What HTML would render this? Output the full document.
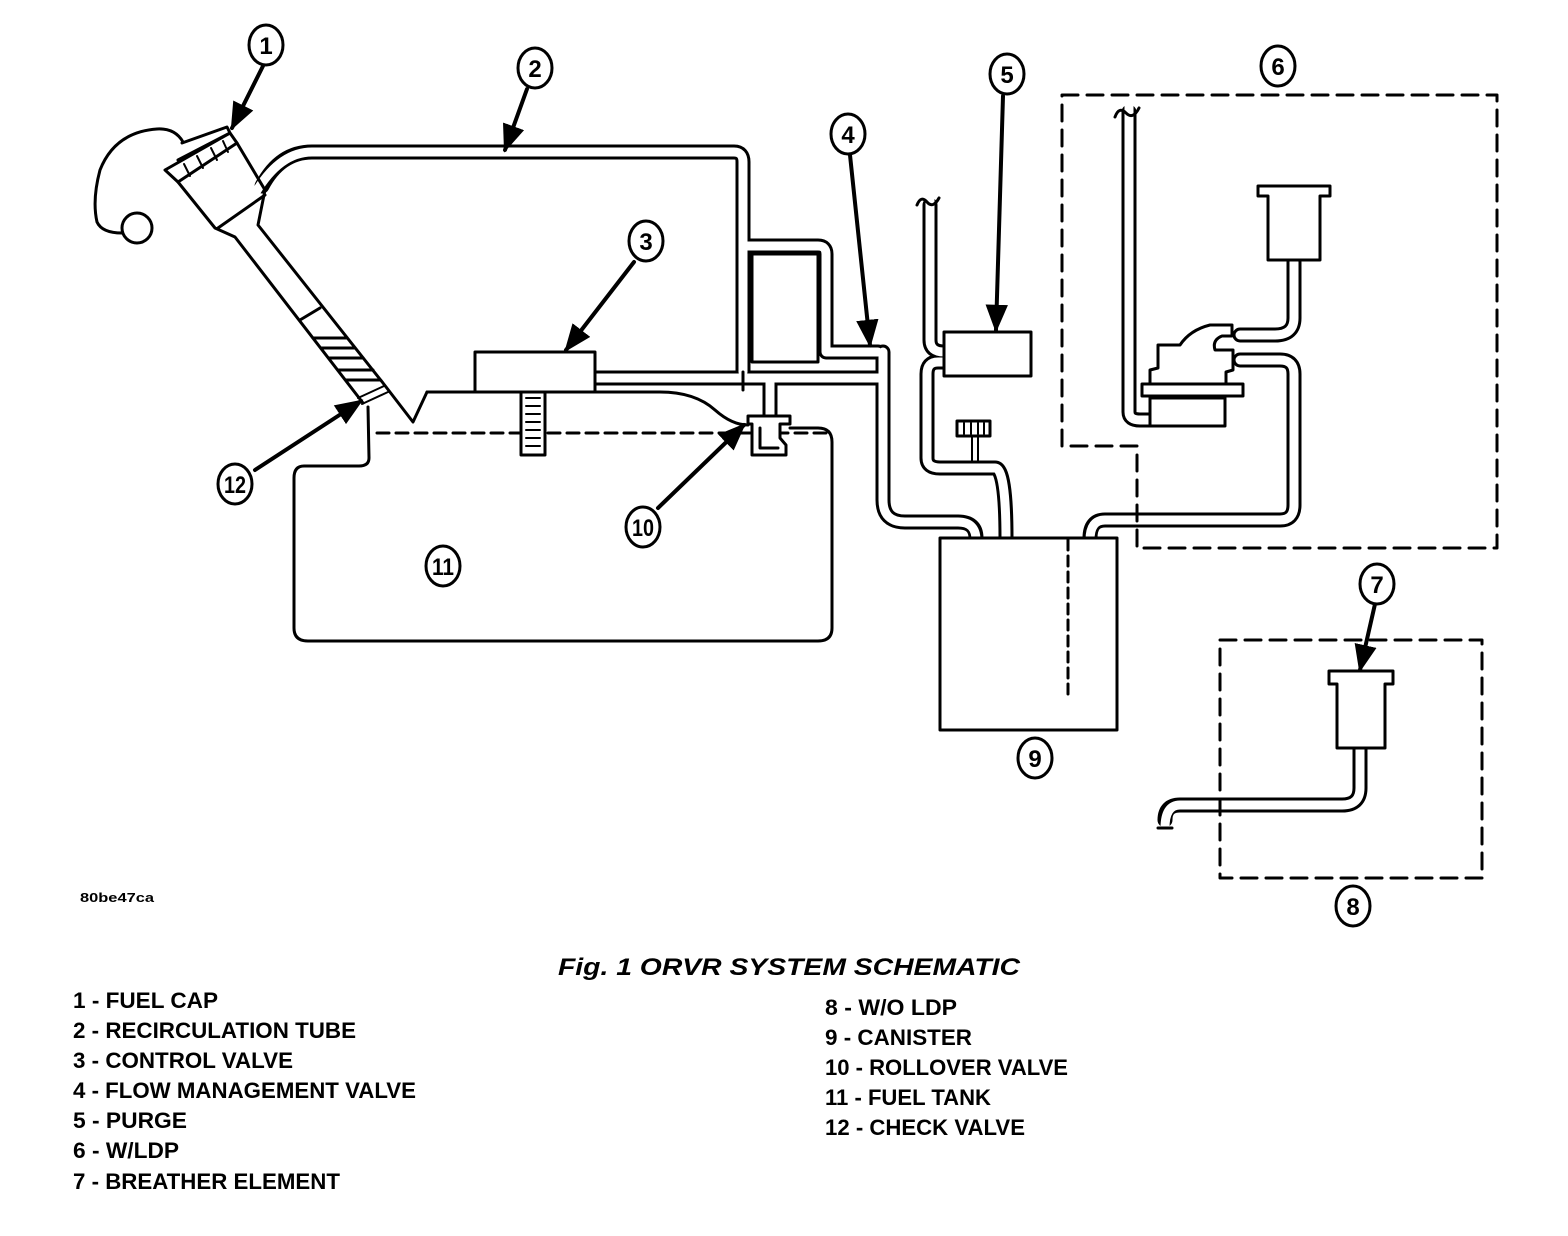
<!DOCTYPE html>
<html><head><meta charset="utf-8"><style>
html,body{margin:0;padding:0;background:#fff}
svg{display:block}
text{font-family:"Liberation Sans",Arial,sans-serif;fill:#000}
</style></head><body>
<svg width="1568" height="1236" viewBox="0 0 1568 1236" xmlns="http://www.w3.org/2000/svg">
<defs>
<marker id="ah" viewBox="0 0 10 10" refX="9" refY="5" markerWidth="7" markerHeight="7" orient="auto" markerUnits="strokeWidth"><path d="M0,1 L10,5 L0,9 Z" fill="#000"/></marker>
</defs>
<g fill="none" stroke="#000" stroke-width="3" stroke-linejoin="round" stroke-linecap="round">
<g stroke-width="15">
<path d="M262 186 Q 280 152 312 152 L 734 152 Q 743 152 743 162 L 743 372"/>
<path d="M743 246 L 818 246 Q 826 246 826 254 L 826 352 L 878 352"/>
<path d="M595 378 L 880 378"/>
<path d="M770 378 L 770 415"/>
<path d="M883 352 L 883 500 Q 883 522 905 522 L 958 522 Q 976 522 976 538"/>
<path d="M930 205 L 930 340 Q 930 352 944 352"/>
<path d="M944 362 L 938 362 Q 927 362 927 374 L 927 458 Q 927 468 940 468 L 995 468 Q 1006 468 1006 538"/>
<path d="M1129 112 L 1129 412 Q 1129 420 1140 420 L 1150 420"/>
<path d="M1294 262 L 1294 318 Q 1294 335 1275 335 L 1240 335"/>
<path d="M1240 360 L 1280 360 Q 1294 360 1294 374 L 1294 505 Q 1294 520 1280 520 L 1105 520 Q 1090 520 1090 538"/>
<path d="M1360 748 L 1360 788 Q 1360 805 1342 805 L 1180 805 Q 1165 805 1165 820"/>
</g>
<g stroke="#fff" stroke-width="9">
<path d="M256 192 Q 280 152 312 152 L 734 152 Q 743 152 743 162 L 743 372"/>
<path d="M743 246 L 818 246 Q 826 246 826 254 L 826 352 L 878 352"/>
<path d="M595 378 L 880 378"/>
<path d="M770 378 L 770 415"/>
<path d="M883 352 L 883 500 Q 883 522 905 522 L 958 522 Q 976 522 976 540"/>
<path d="M930 196 L 930 340 Q 930 352 944 352"/>
<path d="M944 362 L 938 362 Q 927 362 927 374 L 927 458 Q 927 468 940 468 L 995 468 Q 1006 468 1006 540"/>
<path d="M1129 105 L 1129 412 Q 1129 420 1140 420 L 1150 420"/>
<path d="M1294 262 L 1294 318 Q 1294 335 1275 335 L 1240 335"/>
<path d="M1240 360 L 1280 360 Q 1294 360 1294 374 L 1294 505 Q 1294 520 1280 520 L 1105 520 Q 1090 520 1090 540"/>
<path d="M1360 748 L 1360 788 Q 1360 805 1342 805 L 1180 805 Q 1165 805 1165 828"/>
</g>
<path d="M752 254 L 818 254 L 818 362 L 752 362 Z" fill="#fff"/>
<path d="M743 372 L 743 390"/>
<path d="M917 205 Q 921 195 927 202 Q 933 209 939 198"/>
<path d="M1115 117 Q 1119 106 1126 113 Q 1133 120 1139 108"/>
<path d="M1158 828 L 1172 828"/>
<!-- tank -->
<path d="M368 407 L 369 458 Q 369 466 359 466 L 304 466 Q 294 466 294 478 L 294 628 Q 294 641 308 641 L 818 641 Q 832 641 832 628 L 832 442 Q 832 428 818 428 L 790 428"/>
<path d="M427 392 L 660 392 Q 695 392 715 410 Q 732 425 748 425"/>
<path d="M377 433 L 830 433" stroke-dasharray="12 7"/>
<!-- control valve -->
<rect x="475" y="352" width="120" height="40" fill="#fff"/>
<rect x="521" y="392" width="24" height="63" fill="#fff"/>
<path d="M526 398 H540 M526 406 H540 M526 414 H540 M526 422 H540 M526 430 H540 M526 438 H540 M526 446 H540" stroke-width="2"/>
<!-- rollover valve -->
<path d="M748 416 L 790 416 L 790 424 L 780 424 L 780 438 L 786 445 L 786 455 L 752 455 L 752 424 L 748 424 Z" fill="#fff"/>
<path d="M760 428 L 760 448 L 778 448"/>
<!-- filler neck -->
<path d="M178 182 L 215 228 L 235 237 L 363 403"/>
<path d="M237 143 L 265 190 L 258 225 L 383 383 L 413 422 L 427 392"/>
<path d="M218 228 L 265 195"/>
<path d="M300 320 L 320 308"/>
<path d="M313 338 L 347 338 M321 348 L 355 348 M329 358 L 363 358 M338 370 L 373 370 M346 380 L 380 380"/>
<path d="M358 398 L 384 386 M362 404 L 388 392" stroke-width="2"/>
<!-- cap -->
<path d="M165 170 L 230 133 L 237 143 L 178 182 Z" fill="#fff"/>
<path d="M182 143 L 227 127 L 230 133 L 178 160" fill="#fff"/>
<path d="M184 164 L 190 176 M197 156 L 203 168 M211 148 L 217 160 M223 141 L 228 152" stroke-width="2"/>
<path d="M183 142 Q 175 128 157 129 Q 115 132 100 170 Q 92 200 97 222 Q 102 233 122 233"/>
<circle cx="137" cy="228" r="15"/>
<!-- purge -->
<rect x="944" y="332" width="87" height="44" fill="#fff"/>
<rect x="957" y="421" width="33" height="15" fill="#fff"/>
<path d="M964 423 V434 M971 423 V434 M978 423 V434 M984 423 V434" stroke-width="2"/>
<path d="M972 436 V462 M978 436 V462" stroke-width="2"/>
<!-- canister -->
<rect x="940" y="538" width="177" height="192" fill="#fff"/>
<path d="M1068 540 L 1068 700" stroke-dasharray="10 6"/>
<!-- LDP -->
<path d="M1150 398 L 1225 398 L 1225 426 L 1150 426 Z" fill="#fff"/>
<path d="M1142 384 L 1243 384 L 1243 396 L 1142 396 Z" fill="#fff"/>
<path d="M1150 384 L 1150 370 L 1158 368 L 1158 345 L 1180 345 Q 1190 330 1210 325 L 1232 325 L 1232 336 L 1222 336 Q 1212 340 1215 350 L 1233 350 L 1233 370 L 1226 372 L 1226 384"/>
<path d="M1258 186 L 1330 186 L 1330 196 L 1320 196 L 1320 260 L 1268 260 L 1268 196 L 1258 196 Z" fill="#fff"/>
<!-- breather -->
<path d="M1329 671 L 1393 671 L 1393 684 L 1385 684 L 1385 748 L 1337 748 L 1337 684 L 1329 684 Z" fill="#fff"/>
<!-- dashed boxes -->
<path d="M1062 95 L 1497 95 L 1497 548 L 1137 548 L 1137 446 L 1062 446 Z" stroke-dasharray="16 9"/>
<rect x="1220" y="640" width="262" height="238" stroke-dasharray="16 9"/>
<!-- arrows -->
<g stroke-width="4">
<path d="M263 66 L 232 128" marker-end="url(#ah)"/>
<path d="M527 89 L 505 150" marker-end="url(#ah)"/>
<path d="M634 262 L 566 350" marker-end="url(#ah)"/>
<path d="M850 155 L 870 345" marker-end="url(#ah)"/>
<path d="M1003 96 L 996 330" marker-end="url(#ah)"/>
<path d="M1375 604 L 1360 670" marker-end="url(#ah)"/>
<path d="M658 508 L 744 425" marker-end="url(#ah)"/>
<path d="M255 470 L 361 401" marker-end="url(#ah)"/>
</g>
<g stroke-width="3" fill="#fff">
<ellipse cx="266" cy="45" rx="17" ry="20"/>
<ellipse cx="535" cy="68" rx="17" ry="20"/>
<ellipse cx="646" cy="241" rx="17" ry="20"/>
<ellipse cx="848" cy="134" rx="17" ry="20"/>
<ellipse cx="1007" cy="74" rx="17" ry="20"/>
<ellipse cx="1278" cy="66" rx="17" ry="20"/>
<ellipse cx="1377" cy="584" rx="17" ry="20"/>
<ellipse cx="1353" cy="906" rx="17" ry="20"/>
<ellipse cx="1035" cy="758" rx="17" ry="20"/>
<ellipse cx="643" cy="527" rx="17" ry="20"/>
<ellipse cx="443" cy="566" rx="17" ry="20"/>
<ellipse cx="235" cy="484" rx="17" ry="20"/>
</g>
</g>
<g font-weight="bold" font-size="24" text-anchor="middle">
<text x="266" y="54">1</text><text x="535" y="77">2</text><text x="646" y="250">3</text>
<text x="848" y="143">4</text><text x="1007" y="83">5</text><text x="1278" y="75">6</text>
<text x="1377" y="593">7</text><text x="1353" y="915">8</text><text x="1035" y="767">9</text>
<text x="643" y="536" textLength="22" lengthAdjust="spacingAndGlyphs">10</text>
<text x="443" y="575" textLength="22" lengthAdjust="spacingAndGlyphs">11</text>
<text x="235" y="493" textLength="22" lengthAdjust="spacingAndGlyphs">12</text>
</g>
<text x="80" y="902" font-size="13" font-weight="bold" textLength="74" lengthAdjust="spacingAndGlyphs">80be47ca</text>
<text x="558" y="975" font-size="24" font-weight="bold" font-style="italic" textLength="462" lengthAdjust="spacingAndGlyphs">Fig. 1 ORVR SYSTEM SCHEMATIC</text>
<g font-size="22" font-weight="bold">
<text x="73" y="1008" textLength="145" lengthAdjust="spacingAndGlyphs">1 - FUEL CAP</text>
<text x="73" y="1038" textLength="283" lengthAdjust="spacingAndGlyphs">2 - RECIRCULATION TUBE</text>
<text x="73" y="1068" textLength="220" lengthAdjust="spacingAndGlyphs">3 - CONTROL VALVE</text>
<text x="73" y="1098" textLength="343" lengthAdjust="spacingAndGlyphs">4 - FLOW MANAGEMENT VALVE</text>
<text x="73" y="1128" textLength="114" lengthAdjust="spacingAndGlyphs">5 - PURGE</text>
<text x="73" y="1158" textLength="106" lengthAdjust="spacingAndGlyphs">6 - W/LDP</text>
<text x="73" y="1189" textLength="267" lengthAdjust="spacingAndGlyphs">7 - BREATHER ELEMENT</text>
<text x="825" y="1015" textLength="132" lengthAdjust="spacingAndGlyphs">8 - W/O LDP</text>
<text x="825" y="1045" textLength="147" lengthAdjust="spacingAndGlyphs">9 - CANISTER</text>
<text x="825" y="1075" textLength="243" lengthAdjust="spacingAndGlyphs">10 - ROLLOVER VALVE</text>
<text x="825" y="1105" textLength="166" lengthAdjust="spacingAndGlyphs">11 - FUEL TANK</text>
<text x="825" y="1135" textLength="200" lengthAdjust="spacingAndGlyphs">12 - CHECK VALVE</text>
</g>
</svg>
</body></html>
